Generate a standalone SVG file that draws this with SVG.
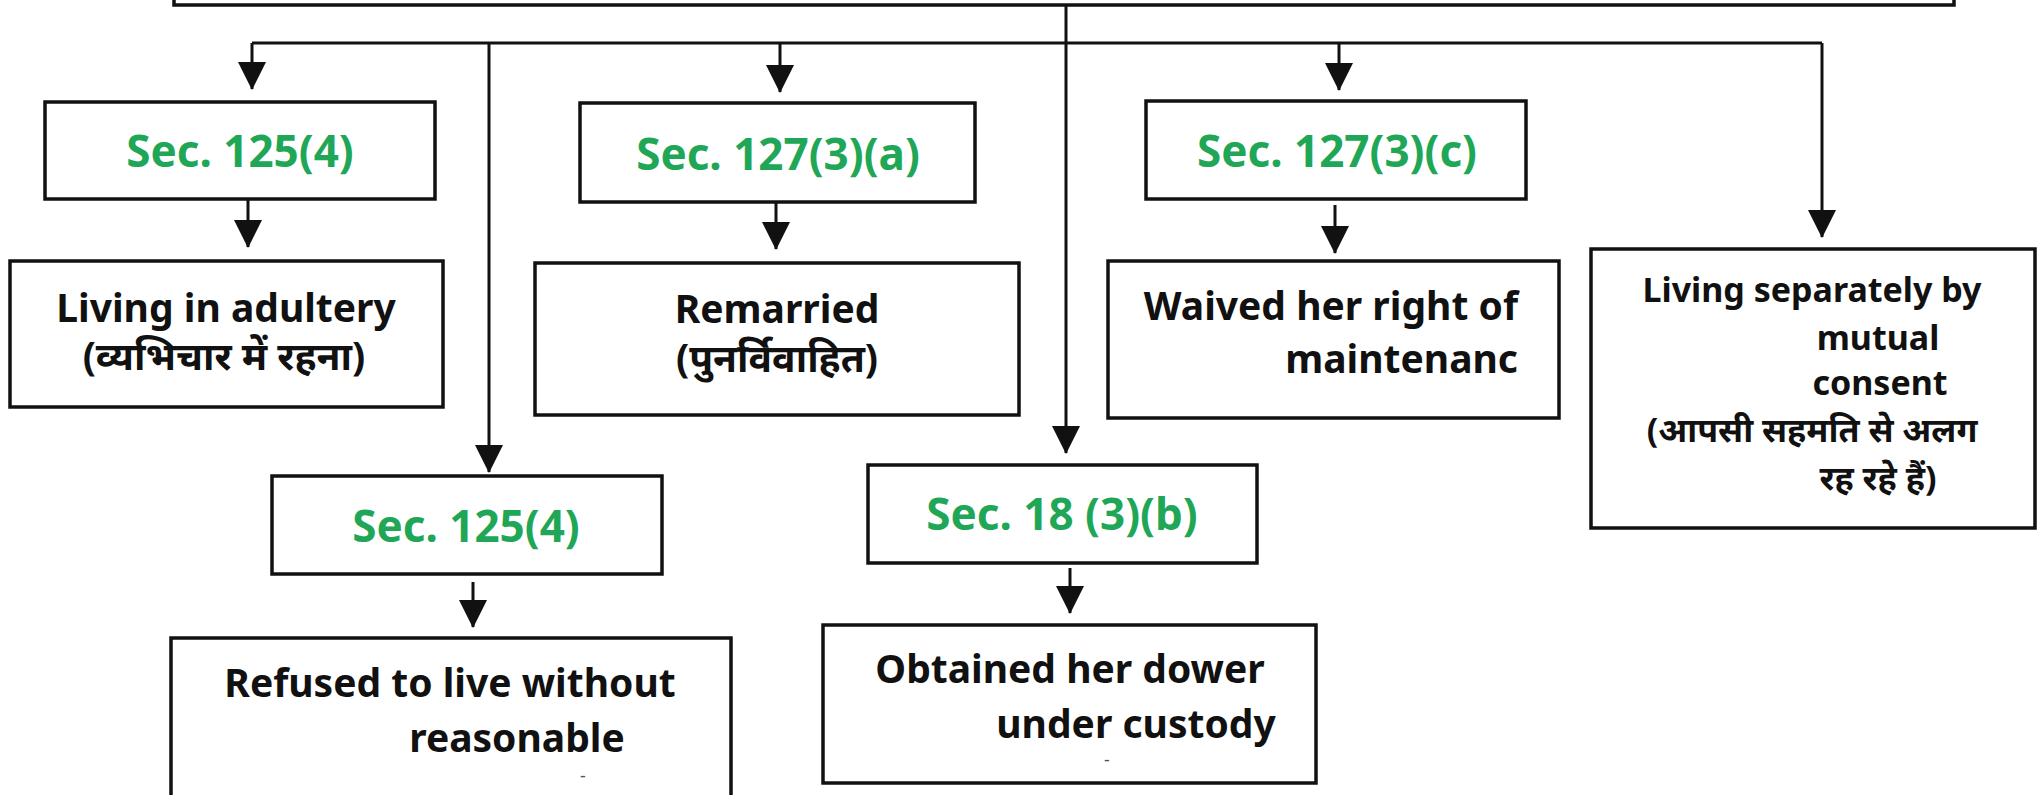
<svg xmlns="http://www.w3.org/2000/svg" width="2040" height="795" viewBox="0 0 2040 795">
<defs>
<marker id="ah" markerUnits="userSpaceOnUse" markerWidth="28" markerHeight="28" viewBox="0 0 28 28" refX="27" refY="14" orient="auto">
<path d="M0,0 L28,14 L0,28 Z" fill="#111"/>
</marker>
</defs>
<style>
.box{fill:#fff;stroke:#111;stroke-width:3.5}
.sec{font-family:"Noto Sans","Open Sans",sans-serif;font-weight:700;font-size:44px;fill:#1fa757;text-anchor:middle}
.lbl{font-family:"Noto Sans","Noto Sans Devanagari","Lohit Devanagari",sans-serif;font-weight:700;font-size:39px;fill:#111;text-anchor:middle}
.sm{font-size:34px}
.dash{font-family:"Noto Sans",sans-serif;font-size:18px;fill:#555;text-anchor:middle}
.conn{stroke:#111;stroke-width:3;fill:none}
</style>
<rect x="0" y="0" width="2040" height="795" fill="#fff"/>
<g id="connectors">
<path class="conn" d="M252,43 H1822"/>
<path class="conn" d="M252,43 V89" marker-end="url(#ah)"/>
<path class="conn" d="M489,43 V472" marker-end="url(#ah)"/>
<path class="conn" d="M780,43 V92" marker-end="url(#ah)"/>
<path class="conn" d="M1066,5 V453" marker-end="url(#ah)"/>
<path class="conn" d="M1339,43 V90" marker-end="url(#ah)"/>
<path class="conn" d="M1822,43 V237" marker-end="url(#ah)"/>
<path class="conn" d="M248,199 V247" marker-end="url(#ah)"/>
<path class="conn" d="M776,202 V249" marker-end="url(#ah)"/>
<path class="conn" d="M1335,205 V253" marker-end="url(#ah)"/>
<path class="conn" d="M473,582 V627" marker-end="url(#ah)"/>
<path class="conn" d="M1070,568 V613" marker-end="url(#ah)"/>
</g>
<g id="top">
<rect class="box" x="174" y="-40" width="1780" height="45"/>
</g>
<g id="sec125a">
<rect class="box" x="45" y="102" width="390" height="97"/>
<text class="sec" x="240" y="167">Sec. 125(4)</text>
</g>
<g id="adultery">
<rect class="box" x="10" y="261" width="433" height="146"/>
<text class="lbl" x="226" y="322">Living in adultery</text>
<text class="lbl" x="224" y="370">(व्यभिचार में रहना)</text>
</g>
<g id="sec127a">
<rect class="box" x="580" y="103" width="395" height="99"/>
<text class="sec" x="778" y="170">Sec. 127(3)(a)</text>
</g>
<g id="remarried">
<rect class="box" x="535" y="263" width="484" height="152"/>
<text class="lbl" x="777" y="323">Remarried</text>
<text class="lbl" x="777" y="372">(पुनर्विवाहित)</text>
</g>
<g id="sec127c">
<rect class="box" x="1146" y="101" width="380" height="98"/>
<text class="sec" x="1337" y="167">Sec. 127(3)(c)</text>
</g>
<g id="waived">
<rect class="box" x="1108" y="261" width="451" height="157"/>
<text class="lbl" x="1518" y="320" style="text-anchor:end">Waived her right of</text>
<text class="lbl" x="1518" y="373" style="text-anchor:end">maintenanc</text>
</g>
<g id="separately">
<rect class="box" x="1591" y="249" width="444" height="279"/>
<text class="lbl sm" x="1812" y="302">Living separately by</text>
<text class="lbl sm" x="1878" y="350">mutual</text>
<text class="lbl sm" x="1880" y="395">consent</text>
<text class="lbl sm" x="1812" y="442">(आपसी सहमति से अलग</text>
<text class="lbl sm" x="1878" y="490">रह रहे हैं)</text>
</g>
<g id="sec125b">
<rect class="box" x="272" y="476" width="390" height="98"/>
<text class="sec" x="466" y="542">Sec. 125(4)</text>
</g>
<g id="refused">
<rect class="box" x="171" y="638" width="560" height="175"/>
<text class="lbl" x="450" y="697">Refused to live without</text>
<text class="lbl" x="517" y="752">reasonable</text>
<text class="dash" x="583" y="782">-</text>
</g>
<g id="sec18">
<rect class="box" x="868" y="465" width="389" height="98"/>
<text class="sec" x="1062" y="530">Sec. 18 (3)(b)</text>
</g>
<g id="dower">
<rect class="box" x="823" y="625" width="493" height="158"/>
<text class="lbl" x="1070" y="683">Obtained her dower</text>
<text class="lbl" x="1136" y="738">under custody</text>
<text class="dash" x="1107" y="766">-</text>
</g>
</svg>
